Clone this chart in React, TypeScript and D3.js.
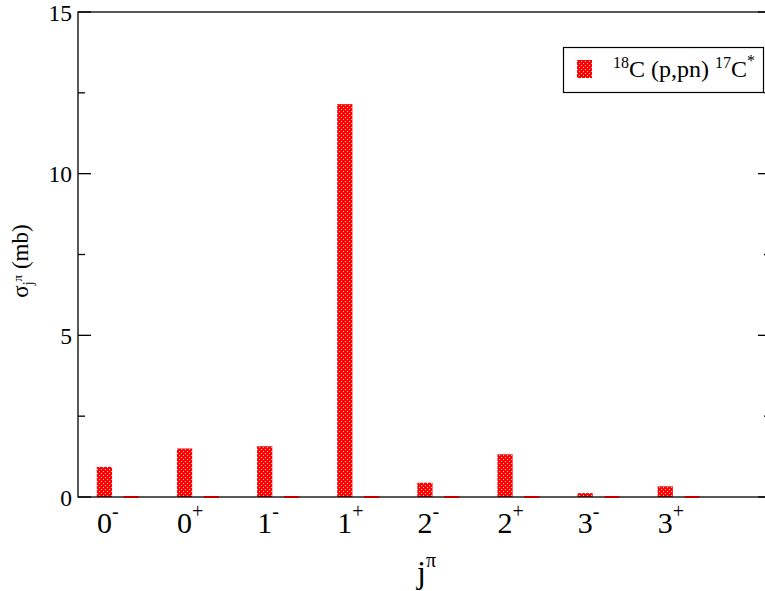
import React from "react";
import * as d3 from "d3";

const catBase = ["0", "0", "1", "1", "2", "2", "3", "3"];
const catSign = ["-", "+", "-", "+", "-", "+", "-", "+"];
const seriesA = [0.93, 1.5, 1.57, 12.15, 0.44, 1.32, 0.12, 0.33];
const seriesB = [0, 0, 0, 0, 0, 0, 0, 0];
const yTicks = [0, 5, 10, 15];
const yMinorTicks = [2.5, 7.5, 12.5];

const W = 765;
const H = 591;
const L = 78;
const R = 771;
const T = 12;
const B = 497;
const FONT = "Liberation Serif, Times New Roman, Times, DejaVu Serif, serif";

export default function App() {
  const x = d3.scaleLinear().domain([-0.33, 8.32]).range([L, R]);
  const y = d3.scaleLinear().domain([0, 15]).range([B, T]);
  const barHalf = 0.095;
  const offB = 0.335;

  return (
    <svg width={W} height={H} style={{ position: "absolute", left: 0, top: 0, background: "#fff", fontFamily: FONT }}>
      <defs>
        <pattern id="dots" width="4" height="4" patternUnits="userSpaceOnUse">
          <rect width="4" height="4" fill="#ff0000" />
          <rect x="1" y="1" width="1" height="1" fill="#ffc8c8" />
          <rect x="3" y="3" width="1" height="1" fill="#ffc8c8" />
        </pattern>
      </defs>
      {seriesA.map((v, i) => (
        <rect
          key={"a" + i}
          x={x(i - barHalf)}
          y={y(v)}
          width={x(i + barHalf) - x(i - barHalf)}
          height={y(0) - y(v)}
          fill="url(#dots)"
        />
      ))}
      <rect x={L} y={T} width={R - L} height={B - T} fill="none" stroke="#000" strokeWidth={1.3} />
      {seriesB.map((v, i) => (
        <rect
          key={"b" + i}
          x={x(i + offB - barHalf)}
          y={y(v) - 1}
          width={x(i + barHalf) - x(i - barHalf)}
          height={Math.max(2, y(0) - y(v))}
          fill="#c00000"
        />
      ))}
      {yTicks.map((t) => (
        <g key={"yt" + t}>
          <line x1={L} x2={L + 13} y1={y(t)} y2={y(t)} stroke="#000" strokeWidth={1.3} />
          <line x1={R} x2={R - 13} y1={y(t)} y2={y(t)} stroke="#000" strokeWidth={1.3} />
          <text x={L - 6} y={y(t) + 8.5} textAnchor="end" fontFamily={FONT} fontSize={23.5}>
            {t}
          </text>
        </g>
      ))}
      {yMinorTicks.map((t) => (
        <g key={"ym" + t}>
          <line x1={L} x2={L + 7} y1={y(t)} y2={y(t)} stroke="#000" strokeWidth={1.3} />
          <line x1={R} x2={R - 7} y1={y(t)} y2={y(t)} stroke="#000" strokeWidth={1.3} />
        </g>
      ))}
      {catBase.map((c, i) => (
        <text key={"xl" + i} x={x(i) - 7.5} y={533} fontFamily={FONT} fontSize={30}>
          <tspan>{c}</tspan>
          <tspan fontSize={20} dy={-15}>
            {catSign[i]}
          </tspan>
        </text>
      ))}
      <text x={417} y={583} fontFamily={FONT} fontSize={32}>
        <tspan>j</tspan>
        <tspan fontSize={20} dy={-16}>
          π
        </tspan>
      </text>
      <text transform="translate(28,261) rotate(-90)" textAnchor="middle" fontFamily={FONT} fontSize={23}>
        <tspan>σ</tspan>
        <tspan fontSize={14} dy={5}>
          j
        </tspan>
        <tspan fontSize={13} dy={-11}>
          π
        </tspan>
        <tspan dy={6}> (mb)</tspan>
      </text>
      <rect x={563.5} y={47.5} width={200} height={45} fill="#fff" stroke="#000" strokeWidth={1.2} />
      <rect x={577} y={60} width={15} height={18} fill="url(#dots)" />
      <text x={613} y={77} fontFamily={FONT} fontSize={24}>
        <tspan fontSize={16} dy={-9}>
          18
        </tspan>
        <tspan dy={9}>C (p,pn) </tspan>
        <tspan fontSize={16} dy={-9}>
          17
        </tspan>
        <tspan dy={9}>C</tspan>
        <tspan fontSize={16} dy={-11}>
          *
        </tspan>
      </text>
    </svg>
  );
}
